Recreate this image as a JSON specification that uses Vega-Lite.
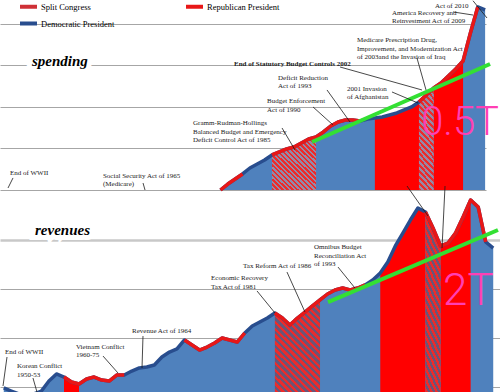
{
"$schema":"https://vega.github.io/schema/vega-lite/v6.json",
"padding":0,
"autosize":{"type":"pad"},
"spacing":50,
"bounds":"flush",
"resolve":{"scale":{"x":"independent","y":"independent"}},
"config":{"view":{"stroke":null},"text":{"font":"Liberation Serif","fontSize":7,"color":"#1a1a1a","lineHeight":8.5}},
"datasets":{
"spending":[{"year":1974,"value":0},{"year":1975,"value":72},{"year":1976,"value":133},{"year":1977,"value":193},{"year":1978,"value":265},{"year":1979,"value":313},{"year":1980,"value":361},{"year":1981,"value":422},{"year":1982,"value":458},{"year":1983,"value":494},{"year":1984,"value":518},{"year":1985,"value":566},{"year":1986,"value":615},{"year":1987,"value":639},{"year":1988,"value":699},{"year":1989,"value":771},{"year":1990,"value":819},{"year":1991,"value":843},{"year":1992,"value":843},{"year":1993,"value":831},{"year":1994,"value":855},{"year":1995,"value":867},{"year":1996,"value":880},{"year":1997,"value":904},{"year":1998,"value":928},{"year":1999,"value":964},{"year":2000,"value":1000},{"year":2001,"value":1060},{"year":2002,"value":1145},{"year":2003,"value":1229},{"year":2004,"value":1289},{"year":2005,"value":1373},{"year":2006,"value":1458},{"year":2007,"value":1554},{"year":2008,"value":1892},{"year":2009,"value":2205},{"year":2010,"value":2169}],
"revenue":[{"year":1945,"value":-10},{"year":1946,"value":-41},{"year":1947,"value":-71},{"year":1948,"value":-82},{"year":1949,"value":-71},{"year":1950,"value":-41},{"year":1951,"value":61},{"year":1952,"value":133},{"year":1953,"value":102},{"year":1954,"value":51},{"year":1955,"value":31},{"year":1956,"value":82},{"year":1957,"value":102},{"year":1958,"value":71},{"year":1959,"value":61},{"year":1960,"value":122},{"year":1961,"value":122},{"year":1962,"value":163},{"year":1963,"value":194},{"year":1964,"value":204},{"year":1965,"value":224},{"year":1966,"value":306},{"year":1967,"value":357},{"year":1968,"value":388},{"year":1969,"value":480},{"year":1970,"value":428},{"year":1971,"value":377},{"year":1972,"value":408},{"year":1973,"value":449},{"year":1974,"value":500},{"year":1975,"value":480},{"year":1976,"value":459},{"year":1977,"value":551},{"year":1978,"value":622},{"year":1979,"value":663},{"year":1980,"value":704},{"year":1981,"value":755},{"year":1982,"value":704},{"year":1983,"value":633},{"year":1984,"value":704},{"year":1985,"value":765},{"year":1986,"value":827},{"year":1987,"value":888},{"year":1988,"value":949},{"year":1989,"value":990},{"year":1990,"value":1010},{"year":1991,"value":990},{"year":1992,"value":1010},{"year":1993,"value":1041},{"year":1994,"value":1092},{"year":1995,"value":1163},{"year":1996,"value":1276},{"year":1997,"value":1439},{"year":1998,"value":1571},{"year":1999,"value":1704},{"year":2000,"value":1827},{"year":2001,"value":1786},{"year":2002,"value":1622},{"year":2003,"value":1439},{"year":2004,"value":1469},{"year":2005,"value":1571},{"year":2006,"value":1735},{"year":2007,"value":1908},{"year":2008,"value":1837},{"year":2009,"value":1480},{"year":2010,"value":1418}],
"spendGreen":[{"year":1986.45,"value":578},{"year":2010.67,"value":1518}],
"revGreen":[{"year":1988.06,"value":867},{"year":2010.63,"value":1602}],
"spendArrows":[{"year":2008.35,"value":2280,"year2":2010.26,"value2":2072},{"year":2005.63,"value":2145,"year2":2008.35,"value2":2108},{"year":2000.73,"value":1590,"year2":2001.96,"value2":1205},{"year":1990.26,"value":1482,"year2":2001.41,"value2":1205},{"year":1988.49,"value":1205,"year2":1991.62,"value2":819},{"year":1986.59,"value":1000,"year2":1989.31,"value2":783},{"year":1997.33,"value":1181,"year2":2000.87,"value2":1048},{"year":1982.37,"value":747,"year2":1984.14,"value2":482},{"year":1945.77,"value":145,"year2":1945.09,"value2":24},{"year":1963.46,"value":84,"year2":1963.73,"value2":0}],
"revArrows":[{"year":1989.39,"value":1224,"year2":1991.64,"value2":1010},{"year":1982.61,"value":1173,"year2":1985.0,"value2":765},{"year":1978.63,"value":980,"year2":1981.02,"value2":755},{"year":1963.49,"value":520,"year2":1963.36,"value2":194},{"year":1958.18,"value":316,"year2":1960.17,"value2":143},{"year":1945.43,"value":306,"year2":1944.9,"value2":10},{"year":1948.88,"value":92,"year2":1949.41,"value2":-51},{"year":1998.55,"value":2051,"year2":2001.34,"value2":1745},{"year":2003.6,"value":2051,"year2":2003.2,"value2":1418}],
"spendNotes":[{"year":2003.18,"value":2270,"text":"Act of 2010"},{"year":1997.33,"value":2181,"text":"America Recovery and\nReinvestment Act of 2009"},{"year":1992.57,"value":1855,"text":"Medicare Prescription Drug,\nImprovement, and Modernization Act\nof 2003and the Invasion of Iraq"},{"year":1981.82,"value":1398,"text":"Deficit Reduction\nAct of 1993"},{"year":1980.33,"value":1120,"text":"Budget Enforcement\nAct of 1990"},{"year":1991.21,"value":1265,"text":"2001 Invasion\nof Afghanistan"},{"year":1970.26,"value":855,"text":"Gramm-Rudman-Hollings\nBalanced Budget and Emergency\nDeficit Control Act of 1985"},{"year":1945.36,"value":253,"text":"End of WWII"},{"year":1958.01,"value":217,"text":"Social Security Act of 1965\n(Medicare)"}],
"spendBold":[{"year":1975.84,"value":1566,"text":"End of Statutory Budget Controls 2002"}],
"revNotes":[{"year":1986.2,"value":1469,"text":"Omnibus Budget\nReconciliation Act\nof 1993"},{"year":1976.77,"value":1276,"text":"Tax Reform Act of 1986"},{"year":1972.52,"value":1153,"text":"Economic Recovery\nTax Act of 1981"},{"year":1962.03,"value":612,"text":"Revenue Act of 1964"},{"year":1954.59,"value":449,"text":"Vietnam Conflict\n1960-75"},{"year":1945.16,"value":398,"text":"End of WWII"},{"year":1946.76,"value":255,"text":"Korean Conflict\n1950-53"}],
"spendTitle":[{"year":1948.35,"value":1494,"text":"spending"}],
"revTitle":[{"year":1949.15,"value":1551,"text":"revenues"}],
"spendPink":[{"year":2001.3,"value":663,"text":"0.5T"}],
"revPink":[{"year":2003.33,"value":837,"text":"2T"}]
},
"vconcat":[
{
"width":486,"height":190,
"data":{"name":"spending"},
"encoding":{
"x":{"field":"year","type":"quantitative","scale":{"domain":[1944,2010.12],"nice":false,"zero":false},"axis":null},
"y":{"field":"value","type":"quantitative","scale":{"domain":[0,2289],"nice":false},"axis":{"values":[0,500,1000,1500,2000],"grid":true,"gridColor":"#a6a6a6","gridWidth":1,"labels":false,"ticks":false,"domain":false,"title":null}}
},
"layer":[
{"mark":{"type":"area","color":"#4f81bd"}},
{"transform":[{"filter":"datum.year >= 1995 && datum.year <= 2001"}],"mark":{"type":"area","color":"#ff0000"}},
{"transform":[{"filter":"datum.year >= 2003 && datum.year <= 2007"}],"mark":{"type":"area","color":"#ff0000"}},
{"transform":[{"filter":"datum.year >= 1981 && datum.year <= 1987"}],"mark":{"type":"area","fill":{"gradient":"linear","x1":0,"y1":1,"x2":0.886,"y2":-0.092,"stops":[{"offset":0,"color":"#ec2b2b"},{"offset":0.025,"color":"#ec2b2b"},{"offset":0.025,"color":"#9589a8"},{"offset":0.05,"color":"#9589a8"},{"offset":0.05,"color":"#ec2b2b"},{"offset":0.075,"color":"#ec2b2b"},{"offset":0.075,"color":"#9589a8"},{"offset":0.1,"color":"#9589a8"},{"offset":0.1,"color":"#ec2b2b"},{"offset":0.125,"color":"#ec2b2b"},{"offset":0.125,"color":"#9589a8"},{"offset":0.15,"color":"#9589a8"},{"offset":0.15,"color":"#ec2b2b"},{"offset":0.175,"color":"#ec2b2b"},{"offset":0.175,"color":"#9589a8"},{"offset":0.2,"color":"#9589a8"},{"offset":0.2,"color":"#ec2b2b"},{"offset":0.225,"color":"#ec2b2b"},{"offset":0.225,"color":"#9589a8"},{"offset":0.25,"color":"#9589a8"},{"offset":0.25,"color":"#ec2b2b"},{"offset":0.275,"color":"#ec2b2b"},{"offset":0.275,"color":"#9589a8"},{"offset":0.3,"color":"#9589a8"},{"offset":0.3,"color":"#ec2b2b"},{"offset":0.325,"color":"#ec2b2b"},{"offset":0.325,"color":"#9589a8"},{"offset":0.35,"color":"#9589a8"},{"offset":0.35,"color":"#ec2b2b"},{"offset":0.375,"color":"#ec2b2b"},{"offset":0.375,"color":"#9589a8"},{"offset":0.4,"color":"#9589a8"},{"offset":0.4,"color":"#ec2b2b"},{"offset":0.425,"color":"#ec2b2b"},{"offset":0.425,"color":"#9589a8"},{"offset":0.45,"color":"#9589a8"},{"offset":0.45,"color":"#ec2b2b"},{"offset":0.475,"color":"#ec2b2b"},{"offset":0.475,"color":"#9589a8"},{"offset":0.5,"color":"#9589a8"},{"offset":0.5,"color":"#ec2b2b"},{"offset":0.525,"color":"#ec2b2b"},{"offset":0.525,"color":"#9589a8"},{"offset":0.55,"color":"#9589a8"},{"offset":0.55,"color":"#ec2b2b"},{"offset":0.575,"color":"#ec2b2b"},{"offset":0.575,"color":"#9589a8"},{"offset":0.6,"color":"#9589a8"},{"offset":0.6,"color":"#ec2b2b"},{"offset":0.625,"color":"#ec2b2b"},{"offset":0.625,"color":"#9589a8"},{"offset":0.65,"color":"#9589a8"},{"offset":0.65,"color":"#ec2b2b"},{"offset":0.675,"color":"#ec2b2b"},{"offset":0.675,"color":"#9589a8"},{"offset":0.7,"color":"#9589a8"},{"offset":0.7,"color":"#ec2b2b"},{"offset":0.725,"color":"#ec2b2b"},{"offset":0.725,"color":"#9589a8"},{"offset":0.75,"color":"#9589a8"},{"offset":0.75,"color":"#ec2b2b"},{"offset":0.775,"color":"#ec2b2b"},{"offset":0.775,"color":"#9589a8"},{"offset":0.8,"color":"#9589a8"},{"offset":0.8,"color":"#ec2b2b"},{"offset":0.825,"color":"#ec2b2b"},{"offset":0.825,"color":"#9589a8"},{"offset":0.85,"color":"#9589a8"},{"offset":0.85,"color":"#ec2b2b"},{"offset":0.875,"color":"#ec2b2b"},{"offset":0.875,"color":"#9589a8"},{"offset":0.9,"color":"#9589a8"},{"offset":0.9,"color":"#ec2b2b"},{"offset":0.925,"color":"#ec2b2b"},{"offset":0.925,"color":"#9589a8"},{"offset":0.95,"color":"#9589a8"},{"offset":0.95,"color":"#ec2b2b"},{"offset":0.975,"color":"#ec2b2b"},{"offset":0.975,"color":"#9589a8"},{"offset":1,"color":"#9589a8"}]}}},
{"transform":[{"filter":"datum.year >= 2001 && datum.year <= 2003"}],"mark":{"type":"area","fill":{"gradient":"linear","x1":0,"y1":1,"x2":0.177,"y2":-0.129,"stops":[{"offset":0,"color":"#ec2b2b"},{"offset":0.025,"color":"#ec2b2b"},{"offset":0.025,"color":"#9589a8"},{"offset":0.05,"color":"#9589a8"},{"offset":0.05,"color":"#ec2b2b"},{"offset":0.075,"color":"#ec2b2b"},{"offset":0.075,"color":"#9589a8"},{"offset":0.1,"color":"#9589a8"},{"offset":0.1,"color":"#ec2b2b"},{"offset":0.125,"color":"#ec2b2b"},{"offset":0.125,"color":"#9589a8"},{"offset":0.15,"color":"#9589a8"},{"offset":0.15,"color":"#ec2b2b"},{"offset":0.175,"color":"#ec2b2b"},{"offset":0.175,"color":"#9589a8"},{"offset":0.2,"color":"#9589a8"},{"offset":0.2,"color":"#ec2b2b"},{"offset":0.225,"color":"#ec2b2b"},{"offset":0.225,"color":"#9589a8"},{"offset":0.25,"color":"#9589a8"},{"offset":0.25,"color":"#ec2b2b"},{"offset":0.275,"color":"#ec2b2b"},{"offset":0.275,"color":"#9589a8"},{"offset":0.3,"color":"#9589a8"},{"offset":0.3,"color":"#ec2b2b"},{"offset":0.325,"color":"#ec2b2b"},{"offset":0.325,"color":"#9589a8"},{"offset":0.35,"color":"#9589a8"},{"offset":0.35,"color":"#ec2b2b"},{"offset":0.375,"color":"#ec2b2b"},{"offset":0.375,"color":"#9589a8"},{"offset":0.4,"color":"#9589a8"},{"offset":0.4,"color":"#ec2b2b"},{"offset":0.425,"color":"#ec2b2b"},{"offset":0.425,"color":"#9589a8"},{"offset":0.45,"color":"#9589a8"},{"offset":0.45,"color":"#ec2b2b"},{"offset":0.475,"color":"#ec2b2b"},{"offset":0.475,"color":"#9589a8"},{"offset":0.5,"color":"#9589a8"},{"offset":0.5,"color":"#ec2b2b"},{"offset":0.525,"color":"#ec2b2b"},{"offset":0.525,"color":"#9589a8"},{"offset":0.55,"color":"#9589a8"},{"offset":0.55,"color":"#ec2b2b"},{"offset":0.575,"color":"#ec2b2b"},{"offset":0.575,"color":"#9589a8"},{"offset":0.6,"color":"#9589a8"},{"offset":0.6,"color":"#ec2b2b"},{"offset":0.625,"color":"#ec2b2b"},{"offset":0.625,"color":"#9589a8"},{"offset":0.65,"color":"#9589a8"},{"offset":0.65,"color":"#ec2b2b"},{"offset":0.675,"color":"#ec2b2b"},{"offset":0.675,"color":"#9589a8"},{"offset":0.7,"color":"#9589a8"},{"offset":0.7,"color":"#ec2b2b"},{"offset":0.725,"color":"#ec2b2b"},{"offset":0.725,"color":"#9589a8"},{"offset":0.75,"color":"#9589a8"},{"offset":0.75,"color":"#ec2b2b"},{"offset":0.775,"color":"#ec2b2b"},{"offset":0.775,"color":"#9589a8"},{"offset":0.8,"color":"#9589a8"},{"offset":0.8,"color":"#ec2b2b"},{"offset":0.825,"color":"#ec2b2b"},{"offset":0.825,"color":"#9589a8"},{"offset":0.85,"color":"#9589a8"},{"offset":0.85,"color":"#ec2b2b"},{"offset":0.875,"color":"#ec2b2b"},{"offset":0.875,"color":"#9589a8"},{"offset":0.9,"color":"#9589a8"},{"offset":0.9,"color":"#ec2b2b"},{"offset":0.925,"color":"#ec2b2b"},{"offset":0.925,"color":"#9589a8"},{"offset":0.95,"color":"#9589a8"},{"offset":0.95,"color":"#ec2b2b"},{"offset":0.975,"color":"#ec2b2b"},{"offset":0.975,"color":"#9589a8"},{"offset":1,"color":"#9589a8"}]}}},
{"mark":{"type":"line","color":"#284d8e","strokeWidth":3.5,"strokeJoin":"round"}},
{"transform":[{"filter":"datum.year <= 1977"}],"mark":{"type":"line","strokeWidth":3.5,"strokeJoin":"round"},"encoding":{"color":{"datum":"Republican President","type":"nominal","scale":{"domain":["Split Congress","Democratic President","Republican President"],"range":["#cf3036","#284d8e","#e81717"]},"legend":{"title":null,"orient":"none","legendX":22,"legendY":0,"columns":2,"symbolType":"M-2,0H2","symbolStrokeWidth":4,"symbolSize":72,"labelFont":"Liberation Serif","labelFontSize":8.5,"labelColor":"#000","labelOffset":6,"columnPadding":63,"rowPadding":0,"padding":0}}}},
{"transform":[{"filter":"datum.year >= 1981 && datum.year <= 1993"}],"mark":{"type":"line","strokeWidth":3.5,"strokeJoin":"round"},"encoding":{"color":{"datum":"Republican President","type":"nominal"}}},
{"transform":[{"filter":"datum.year >= 2001 && datum.year <= 2009"}],"mark":{"type":"line","strokeWidth":3.5,"strokeJoin":"round"},"encoding":{"color":{"datum":"Republican President","type":"nominal"}}},
{"data":{"values":[{}]},"mark":{"type":"rule","color":"#8c8c8c","strokeWidth":1},"encoding":{"x":{"datum":1944.41},"y":{"datum":0},"y2":{"datum":2000}}},
{"data":{"name":"spendGreen"},"mark":{"type":"line","color":"#33e033","strokeWidth":4}},
{"data":{"name":"spendArrows"},"mark":{"type":"rule","color":"#1a1a1a","strokeWidth":0.8},"encoding":{"x2":{"field":"year2"},"y2":{"field":"value2"}}},
{"data":{"name":"spendNotes"},"mark":{"type":"text","align":"left","baseline":"top","lineBreak":"\n"},"encoding":{"text":{"field":"text"}}},
{"data":{"name":"spendBold"},"mark":{"type":"text","align":"left","baseline":"top","fontWeight":"bold"},"encoding":{"text":{"field":"text"}}},
{"data":{"name":"spendTitle"},"mark":{"type":"text","font":"Liberation Sans Narrow","fontStyle":"italic","fontWeight":"bold","fontSize":15,"color":"#ffffff","stroke":"#ffffff","strokeWidth":10,"align":"left","baseline":"alphabetic"},"encoding":{"text":{"field":"text"}}},
{"data":{"name":"spendTitle"},"mark":{"type":"text","font":"Liberation Sans Narrow","fontStyle":"italic","fontWeight":"bold","fontSize":15,"color":"#000000","align":"left","baseline":"alphabetic"},"encoding":{"text":{"field":"text"}}},
{"data":{"name":"spendPink"},"mark":{"type":"text","font":"Roboto","fontWeight":300,"fontSize":40,"color":"#ff3fb4","align":"left","baseline":"alphabetic"},"encoding":{"text":{"field":"text"}}}
]
},
{
"width":500,"height":152,
"data":{"name":"revenue"},
"encoding":{
"x":{"field":"year","type":"quantitative","scale":{"domain":[1944.5,2010.9],"nice":false,"zero":false},"axis":null},
"y":{"field":"value","type":"quantitative","scale":{"domain":[-51,1500],"nice":false,"zero":false},"axis":{"values":[0,500,1000,1500],"grid":true,"gridColor":{"condition":{"test":"datum.value === 1500","value":"#c8c8c8"},"value":"#a6a6a6"},"gridWidth":{"condition":{"test":"datum.value === 1500","value":2.5},"value":1},"labels":false,"ticks":false,"domain":false,"title":null}}
},
"layer":[
{"mark":{"type":"area","color":"#4f81bd"},"encoding":{"y2":{"datum":-51}}},
{"transform":[{"filter":"datum.year >= 1953 && datum.year <= 1955"}],"mark":{"type":"area","color":"#ff0000"},"encoding":{"y2":{"datum":-51}}},
{"transform":[{"filter":"datum.year >= 1995 && datum.year <= 2001"}],"mark":{"type":"area","color":"#ff0000"},"encoding":{"y2":{"datum":-51}}},
{"transform":[{"filter":"datum.year >= 2003 && datum.year <= 2007"}],"mark":{"type":"area","color":"#ff0000"},"encoding":{"y2":{"datum":-51}}},
{"transform":[{"filter":"datum.year >= 1981 && datum.year <= 1987"}],"mark":{"type":"area","fill":{"gradient":"linear","x1":0,"y1":1,"x2":0.588,"y2":-0.202,"stops":[{"offset":0,"color":"#ec2b2b"},{"offset":0.025,"color":"#ec2b2b"},{"offset":0.025,"color":"#6a5577"},{"offset":0.05,"color":"#6a5577"},{"offset":0.05,"color":"#ec2b2b"},{"offset":0.075,"color":"#ec2b2b"},{"offset":0.075,"color":"#6a5577"},{"offset":0.1,"color":"#6a5577"},{"offset":0.1,"color":"#ec2b2b"},{"offset":0.125,"color":"#ec2b2b"},{"offset":0.125,"color":"#6a5577"},{"offset":0.15,"color":"#6a5577"},{"offset":0.15,"color":"#ec2b2b"},{"offset":0.175,"color":"#ec2b2b"},{"offset":0.175,"color":"#6a5577"},{"offset":0.2,"color":"#6a5577"},{"offset":0.2,"color":"#ec2b2b"},{"offset":0.225,"color":"#ec2b2b"},{"offset":0.225,"color":"#6a5577"},{"offset":0.25,"color":"#6a5577"},{"offset":0.25,"color":"#ec2b2b"},{"offset":0.275,"color":"#ec2b2b"},{"offset":0.275,"color":"#6a5577"},{"offset":0.3,"color":"#6a5577"},{"offset":0.3,"color":"#ec2b2b"},{"offset":0.325,"color":"#ec2b2b"},{"offset":0.325,"color":"#6a5577"},{"offset":0.35,"color":"#6a5577"},{"offset":0.35,"color":"#ec2b2b"},{"offset":0.375,"color":"#ec2b2b"},{"offset":0.375,"color":"#6a5577"},{"offset":0.4,"color":"#6a5577"},{"offset":0.4,"color":"#ec2b2b"},{"offset":0.425,"color":"#ec2b2b"},{"offset":0.425,"color":"#6a5577"},{"offset":0.45,"color":"#6a5577"},{"offset":0.45,"color":"#ec2b2b"},{"offset":0.475,"color":"#ec2b2b"},{"offset":0.475,"color":"#6a5577"},{"offset":0.5,"color":"#6a5577"},{"offset":0.5,"color":"#ec2b2b"},{"offset":0.525,"color":"#ec2b2b"},{"offset":0.525,"color":"#6a5577"},{"offset":0.55,"color":"#6a5577"},{"offset":0.55,"color":"#ec2b2b"},{"offset":0.575,"color":"#ec2b2b"},{"offset":0.575,"color":"#6a5577"},{"offset":0.6,"color":"#6a5577"},{"offset":0.6,"color":"#ec2b2b"},{"offset":0.625,"color":"#ec2b2b"},{"offset":0.625,"color":"#6a5577"},{"offset":0.65,"color":"#6a5577"},{"offset":0.65,"color":"#ec2b2b"},{"offset":0.675,"color":"#ec2b2b"},{"offset":0.675,"color":"#6a5577"},{"offset":0.7,"color":"#6a5577"},{"offset":0.7,"color":"#ec2b2b"},{"offset":0.725,"color":"#ec2b2b"},{"offset":0.725,"color":"#6a5577"},{"offset":0.75,"color":"#6a5577"},{"offset":0.75,"color":"#ec2b2b"},{"offset":0.775,"color":"#ec2b2b"},{"offset":0.775,"color":"#6a5577"},{"offset":0.8,"color":"#6a5577"},{"offset":0.8,"color":"#ec2b2b"},{"offset":0.825,"color":"#ec2b2b"},{"offset":0.825,"color":"#6a5577"},{"offset":0.85,"color":"#6a5577"},{"offset":0.85,"color":"#ec2b2b"},{"offset":0.875,"color":"#ec2b2b"},{"offset":0.875,"color":"#6a5577"},{"offset":0.9,"color":"#6a5577"},{"offset":0.9,"color":"#ec2b2b"},{"offset":0.925,"color":"#ec2b2b"},{"offset":0.925,"color":"#6a5577"},{"offset":0.95,"color":"#6a5577"},{"offset":0.95,"color":"#ec2b2b"},{"offset":0.975,"color":"#ec2b2b"},{"offset":0.975,"color":"#6a5577"},{"offset":1,"color":"#6a5577"}]}},"encoding":{"y2":{"datum":-51}}},
{"transform":[{"filter":"datum.year >= 2001 && datum.year <= 2003"}],"mark":{"type":"area","fill":{"gradient":"linear","x1":0,"y1":1,"x2":0.203,"y2":-0.142,"stops":[{"offset":0,"color":"#ec2b2b"},{"offset":0.025,"color":"#ec2b2b"},{"offset":0.025,"color":"#6a5577"},{"offset":0.05,"color":"#6a5577"},{"offset":0.05,"color":"#ec2b2b"},{"offset":0.075,"color":"#ec2b2b"},{"offset":0.075,"color":"#6a5577"},{"offset":0.1,"color":"#6a5577"},{"offset":0.1,"color":"#ec2b2b"},{"offset":0.125,"color":"#ec2b2b"},{"offset":0.125,"color":"#6a5577"},{"offset":0.15,"color":"#6a5577"},{"offset":0.15,"color":"#ec2b2b"},{"offset":0.175,"color":"#ec2b2b"},{"offset":0.175,"color":"#6a5577"},{"offset":0.2,"color":"#6a5577"},{"offset":0.2,"color":"#ec2b2b"},{"offset":0.225,"color":"#ec2b2b"},{"offset":0.225,"color":"#6a5577"},{"offset":0.25,"color":"#6a5577"},{"offset":0.25,"color":"#ec2b2b"},{"offset":0.275,"color":"#ec2b2b"},{"offset":0.275,"color":"#6a5577"},{"offset":0.3,"color":"#6a5577"},{"offset":0.3,"color":"#ec2b2b"},{"offset":0.325,"color":"#ec2b2b"},{"offset":0.325,"color":"#6a5577"},{"offset":0.35,"color":"#6a5577"},{"offset":0.35,"color":"#ec2b2b"},{"offset":0.375,"color":"#ec2b2b"},{"offset":0.375,"color":"#6a5577"},{"offset":0.4,"color":"#6a5577"},{"offset":0.4,"color":"#ec2b2b"},{"offset":0.425,"color":"#ec2b2b"},{"offset":0.425,"color":"#6a5577"},{"offset":0.45,"color":"#6a5577"},{"offset":0.45,"color":"#ec2b2b"},{"offset":0.475,"color":"#ec2b2b"},{"offset":0.475,"color":"#6a5577"},{"offset":0.5,"color":"#6a5577"},{"offset":0.5,"color":"#ec2b2b"},{"offset":0.525,"color":"#ec2b2b"},{"offset":0.525,"color":"#6a5577"},{"offset":0.55,"color":"#6a5577"},{"offset":0.55,"color":"#ec2b2b"},{"offset":0.575,"color":"#ec2b2b"},{"offset":0.575,"color":"#6a5577"},{"offset":0.6,"color":"#6a5577"},{"offset":0.6,"color":"#ec2b2b"},{"offset":0.625,"color":"#ec2b2b"},{"offset":0.625,"color":"#6a5577"},{"offset":0.65,"color":"#6a5577"},{"offset":0.65,"color":"#ec2b2b"},{"offset":0.675,"color":"#ec2b2b"},{"offset":0.675,"color":"#6a5577"},{"offset":0.7,"color":"#6a5577"},{"offset":0.7,"color":"#ec2b2b"},{"offset":0.725,"color":"#ec2b2b"},{"offset":0.725,"color":"#6a5577"},{"offset":0.75,"color":"#6a5577"},{"offset":0.75,"color":"#ec2b2b"},{"offset":0.775,"color":"#ec2b2b"},{"offset":0.775,"color":"#6a5577"},{"offset":0.8,"color":"#6a5577"},{"offset":0.8,"color":"#ec2b2b"},{"offset":0.825,"color":"#ec2b2b"},{"offset":0.825,"color":"#6a5577"},{"offset":0.85,"color":"#6a5577"},{"offset":0.85,"color":"#ec2b2b"},{"offset":0.875,"color":"#ec2b2b"},{"offset":0.875,"color":"#6a5577"},{"offset":0.9,"color":"#6a5577"},{"offset":0.9,"color":"#ec2b2b"},{"offset":0.925,"color":"#ec2b2b"},{"offset":0.925,"color":"#6a5577"},{"offset":0.95,"color":"#6a5577"},{"offset":0.95,"color":"#ec2b2b"},{"offset":0.975,"color":"#ec2b2b"},{"offset":0.975,"color":"#6a5577"},{"offset":1,"color":"#6a5577"}]}},"encoding":{"y2":{"datum":-51}}},
{"mark":{"type":"line","color":"#284d8e","strokeWidth":3.5,"strokeJoin":"round"}},
{"transform":[{"filter":"datum.year >= 1953 && datum.year <= 1961"}],"mark":{"type":"line","color":"#e81717","strokeWidth":3.5,"strokeJoin":"round"}},
{"transform":[{"filter":"datum.year >= 1969 && datum.year <= 1977"}],"mark":{"type":"line","color":"#e81717","strokeWidth":3.5,"strokeJoin":"round"}},
{"transform":[{"filter":"datum.year >= 1981 && datum.year <= 1993"}],"mark":{"type":"line","color":"#e81717","strokeWidth":3.5,"strokeJoin":"round"}},
{"transform":[{"filter":"datum.year >= 2001 && datum.year <= 2009"}],"mark":{"type":"line","color":"#e81717","strokeWidth":3.5,"strokeJoin":"round"}},
{"data":{"name":"revGreen"},"mark":{"type":"line","color":"#33e033","strokeWidth":4}},
{"data":{"name":"revArrows"},"mark":{"type":"rule","color":"#1a1a1a","strokeWidth":0.8},"encoding":{"x2":{"field":"year2"},"y2":{"field":"value2"}}},
{"data":{"name":"revNotes"},"mark":{"type":"text","align":"left","baseline":"top","lineBreak":"\n"},"encoding":{"text":{"field":"text"}}},
{"data":{"name":"revTitle"},"mark":{"type":"text","font":"Liberation Sans Narrow","fontStyle":"italic","fontWeight":"bold","fontSize":15,"color":"#ffffff","stroke":"#ffffff","strokeWidth":10,"align":"left","baseline":"alphabetic"},"encoding":{"text":{"field":"text"}}},
{"data":{"name":"revTitle"},"mark":{"type":"text","font":"Liberation Sans Narrow","fontStyle":"italic","fontWeight":"bold","fontSize":15,"color":"#000000","align":"left","baseline":"alphabetic"},"encoding":{"text":{"field":"text"}}},
{"data":{"name":"revPink"},"mark":{"type":"text","font":"Roboto","fontWeight":300,"fontSize":44,"color":"#ff3fb4","align":"left","baseline":"alphabetic"},"encoding":{"text":{"field":"text"}}}
]
}
]
}
